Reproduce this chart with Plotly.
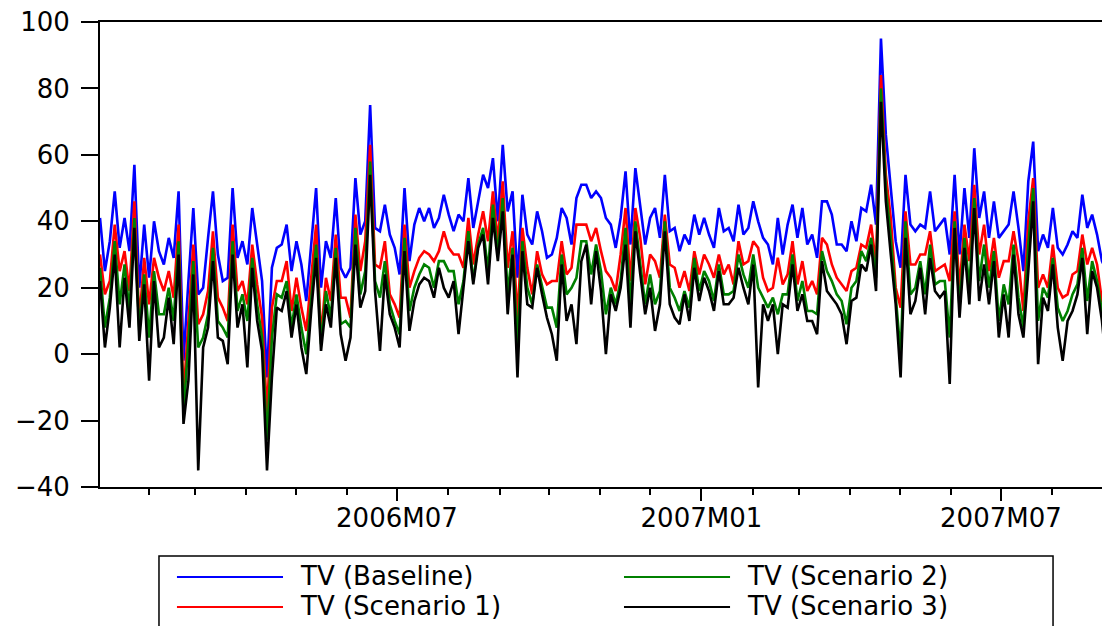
import pandas as pd
import plotly.graph_objects as go

# values sampled roughly every 3 days, Jan 2006 - Sep 2007
baseline = [
    41, 25, 34, 49, 32, 41, 31, 57, 20, 39,
    23, 40, 31, 27, 35, 29, 49, -2, 22, 44,
    18, 20, 35, 49, 30, 22, 23, 50, 29, 34,
    27, 44, 33, 22, -7, 26, 32, 33, 39, 25,
    34, 27, 16, 32, 50, 20, 34, 29, 47, 26,
    23, 26, 53, 36, 40, 75, 38, 37, 45, 36,
    32, 24, 50, 28, 39, 44, 40, 44, 38, 41,
    48, 42, 37, 42, 40, 53, 38, 46, 54, 50,
    59, 40, 63, 43, 49, 23, 48, 36, 33, 43,
    37, 29, 30, 35, 44, 41, 33, 47, 51, 51,
    47, 49, 47, 41, 39, 32, 41, 55, 33, 56,
    45, 33, 41, 44, 35, 54, 37, 38, 31, 36,
    33, 42, 36, 41, 36, 32, 44, 37, 38, 34,
    45, 36, 38, 46, 40, 35, 33, 27, 41, 30,
    39, 45, 35, 44, 33, 36, 29, 46, 46, 42,
    33, 33, 31, 40, 34, 44, 43, 51, 39, 95,
    66, 50, 34, 26, 54, 39, 37, 39, 38, 49,
    37, 39, 41, 30, 54, 30, 50, 35, 62, 41,
    49, 35, 46, 35, 37, 39, 49, 38, 25, 52,
    64, 31, 36, 32, 44, 32, 30, 33, 37, 35,
    48, 38, 42, 36, 28, 25,
]
scenario1 = [
    30, 18, 22, 39, 25, 31, 19, 46, 10, 29,
    15, 29, 23, 19, 25, 17, 39, -13, 10, 33,
    9, 12, 19, 37, 17, 14, 10, 39, 19, 22,
    15, 33, 21, 11, -18, 14, 22, 22, 28, 13,
    23, 14, 7, 22, 39, 5, 23, 16, 36, 17,
    17, 11, 42, 25, 34, 63, 27, 26, 34, 18,
    15, 11, 39, 20, 25, 29, 31, 30, 28, 31,
    37, 32, 30, 30, 26, 41, 27, 36, 43, 34,
    49, 34, 52, 26, 37, 11, 38, 26, 18, 31,
    24, 21, 22, 22, 34, 24, 26, 39, 39, 39,
    34, 38, 31, 25, 23, 19, 30, 44, 22, 44,
    35, 21, 30, 28, 23, 42, 27, 26, 20, 25,
    19, 31, 24, 30, 27, 23, 30, 24, 27, 21,
    34, 27, 28, 34, 32, 23, 19, 20, 29, 21,
    24, 34, 21, 28, 19, 22, 18, 35, 33, 27,
    23, 21, 19, 25, 26, 33, 32, 39, 27, 84,
    54, 41, 20, 14, 43, 27, 27, 30, 30, 37,
    25, 26, 27, 22, 43, 20, 39, 28, 51, 30,
    39, 25, 35, 23, 28, 28, 37, 28, 13, 40,
    53, 20, 24, 20, 33, 20, 17, 18, 24, 25,
    36, 27, 32, 27, 16, 14,
]
scenario2 = [
    26, 8, 17, 34, 15, 27, 13, 41, 7, 24,
    5, 25, 12, 12, 20, 10, 34, -18, 4, 28,
    2, 5, 12, 32, 10, 8, 5, 34, 13, 18,
    10, 29, 15, 5, -26, 5, 18, 17, 22, 8,
    18, 8, 0, 17, 33, 3, 19, 11, 32, 9,
    10, 8, 38, 18, 25, 58, 22, 17, 28, 15,
    10, 6, 35, 13, 20, 24, 27, 26, 20, 28,
    28, 25, 25, 15, 22, 37, 22, 33, 38, 25,
    45, 30, 47, 18, 32, 3, 34, 20, 15, 27,
    20, 14, 14, 8, 30, 18, 20, 23, 34, 34,
    24, 33, 25, 12, 20, 15, 22, 38, 15, 40,
    27, 15, 24, 15, 19, 40, 20, 17, 13, 19,
    14, 29, 19, 25, 22, 16, 27, 18, 18, 19,
    30, 24, 20, 30, 20, 17, 14, 17, 12, 18,
    18, 30, 16, 22, 13, 13, 12, 31, 25, 22,
    18, 16, 9, 20, 22, 31, 28, 35, 23, 80,
    50, 35, 18, 0, 40, 18, 20, 28, 18, 33,
    21, 22, 22, 5, 40, 14, 35, 20, 47, 22,
    33, 20, 31, 10, 21, 15, 33, 17, 8, 33,
    50, 10, 20, 17, 29, 14, 10, 13, 18, 21,
    32, 16, 28, 22, 13, 10,
]
scenario3 = [
    22, 2, 14, 30, 2, 23, 8, 38, 4, 21,
    -8, 22, 2, 5, 17, 3, 30, -21, -8, 24,
    -35, 2, 8, 28, 5, 4, -3, 30, 8, 15,
    -4, 26, 10, 1, -35, -7, 14, 13, 19, 5,
    15, 2, -6, 13, 29, 1, 15, 8, 29, 6,
    -2, 5, 33, 14, 19, 54, 19, 1, 24, 12,
    8, 2, 31, 7, 16, 21, 23, 22, 17, 26,
    20, 17, 22, 6, 20, 34, 21, 32, 36, 21,
    41, 28, 43, 12, 30, -7, 31, 15, 14, 26,
    18, 11, 6, -2, 27, 10, 15, 3, 28, 33,
    15, 31, 19, 0, 18, 13, 20, 33, 8, 37,
    24, 12, 20, 7, 15, 37, 15, 11, 9, 18,
    10, 26, 16, 23, 19, 13, 25, 15, 15, 17,
    26, 20, 15, 27, -10, 15, 10, 15, 0, 15,
    14, 27, 13, 18, 10, 10, 6, 28, 19, 17,
    15, 12, 3, 16, 17, 27, 25, 33, 19, 76,
    46, 30, 15, -7, 35, 12, 16, 26, 12, 29,
    19, 17, 19, -9, 38, 11, 32, 15, 44, 16,
    27, 15, 28, 5, 18, 5, 30, 12, 5, 25,
    46, -3, 17, 13, 27, 8, -2, 10, 13, 18,
    29, 6, 25, 20, 10, -5,
]

series_names = ["TV (Baseline)", "TV (Scenario 1)", "TV (Scenario 2)", "TV (Scenario 3)"]
series_colors = ["#0000FF", "#FF0000", "#008000", "#000000"]
y_ticks = [-40, -20, 0, 20, 40, 60, 80, 100]

dates = pd.date_range("2006-01-02 14:00", periods=len(baseline), freq="4274min")

fig = go.Figure()
for name, vals, col in zip(series_names, [baseline, scenario1, scenario2, scenario3], series_colors):
    fig.add_trace(go.Scatter(x=dates, y=vals, mode="lines", name=name,
                             line=dict(color=col, width=2.6), showlegend=False))

font = dict(family="DejaVu Sans", size=26, color="black")

fig.update_xaxes(
    type="date", range=[dates[0], "2007-09-04 22:00"], automargin=False,
    tick0="2006-01-01", dtick="M6", tickformat="%YM%m",
    ticks="outside", ticklen=12, tickwidth=2, tickcolor="black",
    minor=dict(dtick="M1", tick0="2006-01-01", ticks="outside", ticklen=6,
               tickwidth=2, tickcolor="black"),
    showline=True, linewidth=2, linecolor="black", mirror=True,
    showgrid=False, zeroline=False, tickfont=font, ticklabelstandoff=-5,
)
fig.update_yaxes(
    range=[-40, 100], tickvals=y_ticks, automargin=False,
    ticks="outside", ticklen=17, tickwidth=2, tickcolor="black",
    showline=True, linewidth=2, linecolor="black", ticklabeloverflow="allow",
    showgrid=False, zeroline=False, tickfont=font, ticklabelstandoff=6,
)

# legend box drawn by hand, two columns like the original
shapes = [dict(type="rect", xref="paper", yref="paper",
               x0=0.0584, x1=0.9436, y0=-0.1484, y1=-0.36,
               line=dict(color="black", width=1.5))]
annotations = []
legend_pos = [(0.0762, -0.1935), (0.0762, -0.2581), (0.5188, -0.1935), (0.5188, -0.2581)]
for (lx, ly), name, col in zip(legend_pos, series_names, series_colors):
    shapes.append(dict(type="line", xref="paper", yref="paper",
                       x0=lx, x1=lx + 0.105, y0=ly, y1=ly,
                       line=dict(color=col, width=2)))
    annotations.append(dict(xref="paper", yref="paper", x=lx + 0.12, y=ly + 0.003,
                            text=name, showarrow=False, xanchor="left",
                            yanchor="middle", font=font))

# the page body has an 8px margin, so the figure is sized to fit the window
fig.update_layout(
    width=1102, height=618,
    margin=dict(l=92, r=0, t=14, b=139),
    plot_bgcolor="white", paper_bgcolor="white",
    shapes=shapes, annotations=annotations, showlegend=False,
)

fig.write_html("out.html")
